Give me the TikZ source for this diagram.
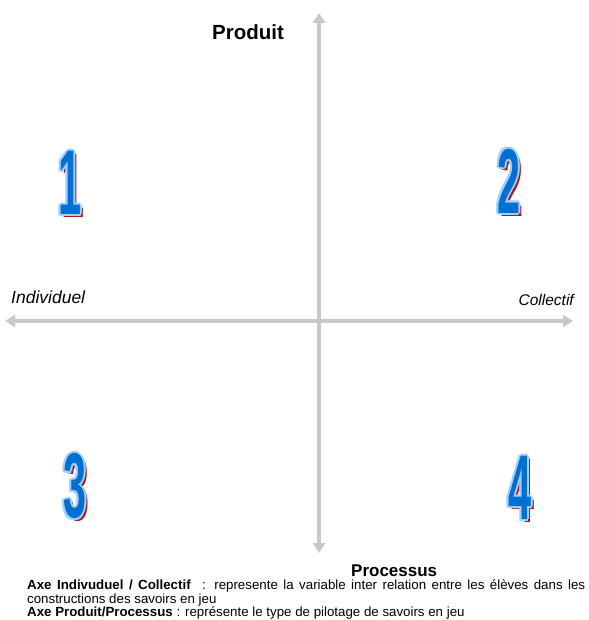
\documentclass[tikz,border=0pt]{standalone}
\usepackage{fontspec}
\setmainfont{Liberation Sans}
\usetikzlibrary{arrows.meta}
\definecolor{axisgray}{RGB}{200,200,200}
\definecolor{numblue}{RGB}{0,112,210}
\definecolor{numlight}{RGB}{160,208,255}
\definecolor{numred}{RGB}{180,20,10}
\tikzset{
  axis/.style={draw=axisgray, line width=4.5pt, {Triangle[width=12pt,length=10pt]}-{Triangle[width=12pt,length=10pt]}},
  numtxt/.style={inner sep=0pt, font=\fontsize{92}{92}\selectfont\bfseries, xscale=0.45},
  axlabel/.style={inner sep=0pt, anchor=base west},
  notetxt/.style={inner sep=0pt, anchor=base west, font=\fontsize{13.3}{15}\selectfont},
}
% big quadrant number: name, x,y, digit
\newcommand{\quadnum}[3]{%
  \node[numtxt, text=numred] at ([shift={(3,3)}]#2) {#3};
  \foreach \dx/\dy in {-2/0,2/0,0/-2,0/2,-1.5/-1.5,1.5/-1.5,-1.5/1.5,1.5/1.5}
    \node[numtxt, text=numlight] at ([shift={(\dx,\dy)}]#2) {#3};
  \node[numtxt, text=numblue] (#1) at (#2) {#3};
}
\begin{document}
\begin{tikzpicture}[x=1pt,y=-1pt]
  \useasboundingbox (0,0) rectangle (588,620);
  \coordinate (top) at (319,13);
  \coordinate (bottom) at (319,553);
  \coordinate (left) at (5,321);
  \coordinate (right) at (573,321);
  \draw[axis] (bottom) -- (top);
  \draw[axis] (left) -- (right);

  \node[axlabel, font=\fontsize{20.5}{24}\selectfont\bfseries] (produit) at (212,40) {Produit};
  \node[axlabel, font=\fontsize{17}{20}\selectfont\bfseries] (processus) at (351,576) {Processus};
  \node[axlabel, font=\fontsize{17.5}{20}\selectfont\itshape] (indiv) at (11,303) {Individuel};
  \node[axlabel, anchor=base east, font=\fontsize{15.5}{19}\selectfont\itshape] (collectif) at (574,305) {Collectif};

  \quadnum{q1}{70,183}{1}
  \quadnum{q2}{509,181}{2}
  \quadnum{q3}{75,486}{3}
  \quadnum{q4}{520,488}{4}

  \node[notetxt] (note1) at (27,589.5) {\makebox[558pt][s]{\textbf{Axe Indivuduel / Collectif}\hspace{6pt} : represente la variable inter relation entre les élèves dans les}};
  \node[notetxt] (note2) at (27,603) {constructions des savoirs en jeu};
  \node[notetxt] (note3) at (27,616.5) {\textbf{Axe Produit/Processus} : représente le type de pilotage de savoirs en jeu};
\end{tikzpicture}
\end{document}
